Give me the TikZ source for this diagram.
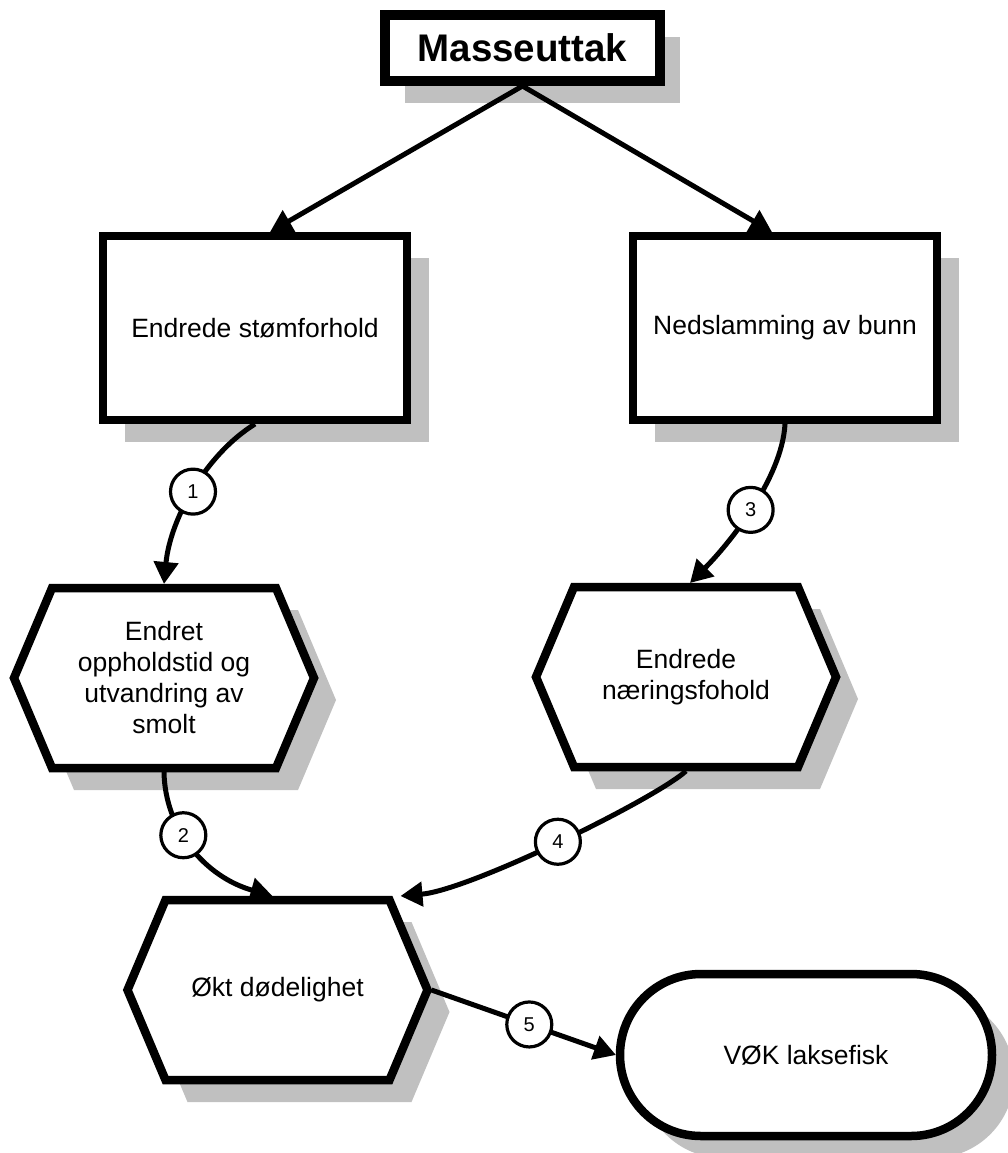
\documentclass[tikz,border=0pt]{standalone}
\usepackage{fontspec}
\setmainfont{Liberation Sans}
\usetikzlibrary{arrows.meta,calc,backgrounds}
\definecolor{shadowgray}{RGB}{192,192,192}
\newcommand\boxpath[5]{($(#1.center)+({#4-(#2)/2},{#5+(#3)/2})$) rectangle ($(#1.center)+({#4+(#2)/2},{#5-(#3)/2})$)}
\newcommand\hexat[3]{($(#1.center)+({#2-150},{#3})$) -- ++(38,90) -- ++(224,0) -- ++(38,-90) -- ++(-38,-90) -- ++(-224,0) -- cycle}
\begin{document}
\begin{tikzpicture}[x=1pt,y=1pt,
  txt/.style={font=\fontsize{26.5}{31}\selectfont, align=center, inner sep=0pt, outer sep=4pt},
  shapeline/.style={draw=black, fill=white, line width=8.5pt},
  conn/.style={line width=5pt, -{Triangle[length=22pt,width=24pt]}},
  num/.style={circle, draw=black, line width=3.2pt, fill=white, minimum size=45pt, inner sep=0pt, font=\fontsize{20}{22}\selectfont}]
\useasboundingbox (0,0) rectangle (1007,-1153);

% nodes (text)
\node[font=\fontsize{38.5}{40}\selectfont\bfseries, inner sep=0pt, outer sep=5pt,
      minimum width=275pt, minimum height=66pt] (t) at (522.5,-48) {Masseuttak};
\node[txt, minimum width=304pt, minimum height=184pt] (b1) at (255,-328) {Endrede stømforhold};
\node[txt, minimum width=304pt, minimum height=184pt] (b2) at (785,-328) {Nedslamming av bunn};
\node[txt, minimum width=300pt, minimum height=180pt] (h1) at (164,-678) {Endret\\oppholdstid og\\utvandring av\\smolt};
\node[txt, minimum width=300pt, minimum height=180pt] (h2) at (686,-677) {Endrede\\næringsfohold};
\node[txt, minimum width=300pt, minimum height=180pt] (h3) at (277.5,-990) {Økt dødelighet};
\node[txt, minimum width=372pt, minimum height=162pt] (v) at (806,-1055) {VØK laksefisk};

\begin{scope}[on background layer]
  \fill[white] (0,0) rectangle (1007,-1153);
  % shadows
  \fill[shadowgray] \boxpath{t}{275}{66}{20}{-22};
  \fill[shadowgray] \boxpath{b1}{304}{184}{22}{-22};
  \fill[shadowgray] \boxpath{b2}{304}{184}{22}{-22};
  \fill[shadowgray] \hexat{h1}{22}{-22};
  \fill[shadowgray] \hexat{h2}{22}{-22};
  \fill[shadowgray] \hexat{h3}{22}{-22};
  \fill[shadowgray, rounded corners=81pt] \boxpath{v}{372}{162}{22}{-22};
  % shapes
  \path[shapeline, line width=10.5pt] \boxpath{t}{275}{66}{0}{0};
  \path[shapeline] \boxpath{b1}{304}{184}{0}{0};
  \path[shapeline] \boxpath{b2}{304}{184}{0}{0};
  \path[shapeline] \hexat{h1}{0}{0};
  \path[shapeline] \hexat{h2}{0}{0};
  \path[shapeline] \hexat{h3}{0}{0};
  \path[shapeline, rounded corners=81pt] \boxpath{v}{372}{162}{0}{0};
\end{scope}

% connectors
\draw[conn] (t.south) -- ([xshift=15pt]b1.north);
\draw[conn] (t.south) -- ([xshift=-13pt]b2.north);
\draw[conn] (b1.south) .. controls +(-50,-31) and +(6,64) .. (h1.north)
  node[num, pos=0.5] (n1) {1};
\draw[conn] (h1.south) .. controls +(1,-58) and +(-67,19) .. ([xshift=-5pt]h3.north)
  node[num, pos=0.4] (n2) {2};
\draw[conn] (b2.south) .. controls +(-3,-55) and +(38,38) .. ([xshift=4pt]h2.north)
  node[num, pos=0.5] (n3) {3};
\draw[conn] (h2.south) .. controls +(-31,-28) and +(70,6) .. ([xshift=-31pt]h3.north east)
  node[num, pos=0.5] (n4) {4};
\draw[conn] (h3.east) -- (v.west) node[num, pos=0.53] (n5) {5};
\end{tikzpicture}
\end{document}
